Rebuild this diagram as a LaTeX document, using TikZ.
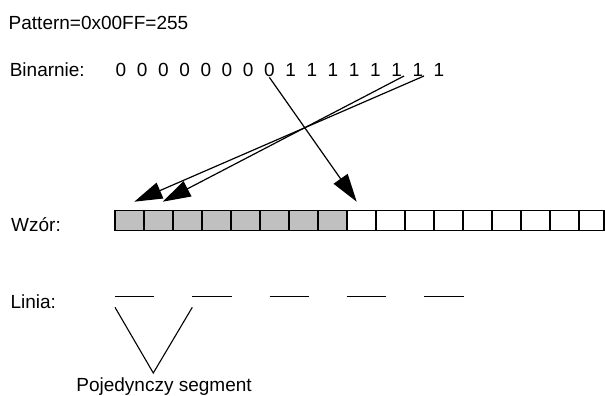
\documentclass[tikz,border=0pt]{standalone}
\usepackage{fontspec}
\setmainfont{Liberation Sans}
\usetikzlibrary{arrows.meta}
\begin{document}
\begin{tikzpicture}[x=1pt,y=-1pt,
  label/.style={anchor=base west,inner sep=0pt,font=\fontsize{19}{22}\selectfont},
  digit/.style={anchor=base,inner sep=0pt,font=\fontsize{19}{22}\selectfont},
  cell/.style={draw=black,line width=1.2pt},
  bitarrow/.style={draw=black,line width=1.2pt,-{Triangle[length=28pt,width=17pt]}},
  seg/.style={draw=black,line width=1.1pt},
  pointer/.style={draw=black,line width=1.1pt}]
  \useasboundingbox (0,0) rectangle (605,396);

  % header and row labels
  \node[label] (pattern) at (8.5,30) {Pattern=0x00FF=255};
  \node[label] (bin) at (9.6,77) {Binarnie:};
  \node[label] (wzor) at (11,231.5) {Wzór:};
  \node[label] (linia) at (10.3,308.3) {Linia:};

  % the sixteen bits of the pattern
  \foreach \i in {0,...,7}
    \node[digit] (d\i) at ({121+21.2*\i},77) {0};
  \foreach \i in {8,...,15}
    \node[digit] (d\i) at ({121+21.2*\i},77) {1};

  % bit cells: eight filled, then empty ones running off the right edge
  \begin{scope}
    \clip (0,0) rectangle (605,396);
    \foreach \k in {0,...,7}
      \filldraw[cell,fill={rgb,255:red,192;green,192;blue,192}]
        ({115+29*\k},210.7) rectangle ({144+29*\k},230.7);
    \foreach \k in {8,...,15}
      \draw[cell] ({115+29*\k},210.7) rectangle ({144+29*\k},230.7);
    \draw[cell] (579,210.7) rectangle (604,230.7);
  \end{scope}

  % arrows from the bits to the cells
  \coordinate (s2) at (404,76);
  \coordinate (s3) at (424,76);
  \coordinate (t1) at (356.7,201.7);
  \coordinate (t2) at (162.7,201.7);
  \coordinate (t3) at (134.3,201.7);
  \draw[bitarrow] (d7.south) -- (t1);
  \draw[bitarrow] (s2) -- (t2);
  \draw[bitarrow] (s3) -- (t3);

  % the resulting dashed line
  \foreach \k in {0,...,4}
    \draw[seg] ({115+77.3*\k},296.7) -- ({154.3+77.3*\k},296.7);

  % pointer to one segment
  \node[label] (one) at (76.2,391.5) {Pojedynczy segment};
  \coordinate (apex) at (153.3,373);
  \draw[pointer] (115,307.3) -- (apex) -- (192.3,307.3);
\end{tikzpicture}
\end{document}
